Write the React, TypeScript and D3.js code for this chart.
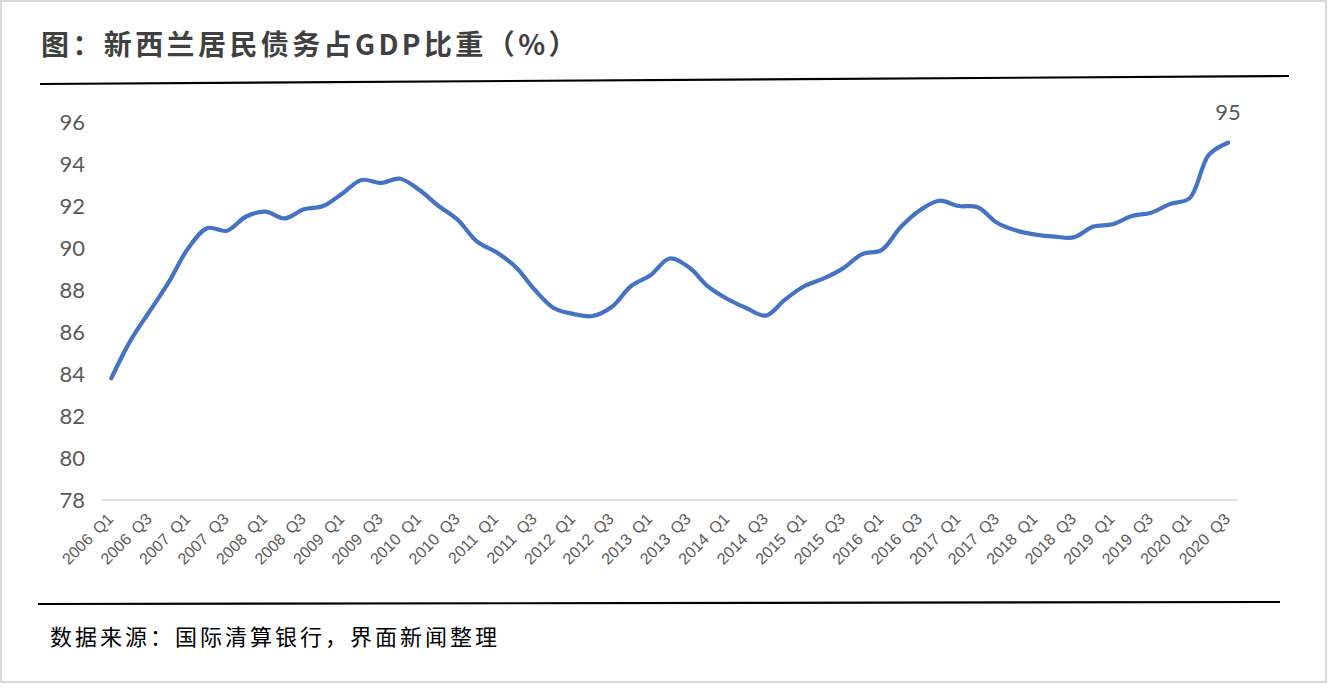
import React from "react";
import * as d3 from "d3";

const title = "图：新西兰居民债务占GDP比重（%）";
const source = "数据来源：国际清算银行，界面新闻整理";
const years = [2006, 2007, 2008, 2009, 2010, 2011, 2012, 2013, 2014, 2015, 2016, 2017, 2018, 2019, 2020];
const quarters = ["Q1", "Q2", "Q3", "Q4"];
const debtRatio = [
  83.8, 85.6, 87.0, 88.4, 90.0, 90.95, 90.82, 91.5, 91.73, 91.41,
  91.84, 92.0, 92.6, 93.24, 93.1, 93.3, 92.76, 92.0, 91.33, 90.3,
  89.8, 89.1, 88.0, 87.13, 86.86, 86.76, 87.2, 88.19, 88.7, 89.5,
  89.08, 88.16, 87.57, 87.13, 86.78, 87.55, 88.19, 88.55, 89.03, 89.71,
  89.9, 91.0, 91.8, 92.25, 92.0, 91.94, 91.2, 90.83, 90.64, 90.54,
  90.51, 91.02, 91.13, 91.52, 91.68, 92.1, 92.37, 94.43, 95.01,
];
const yTicks = [78, 80, 82, 84, 86, 88, 90, 92, 94, 96];
const lastLabel = "95";

const categories: string[] = [];
years.forEach((y) => quarters.forEach((q) => categories.push(`${y} ${q}`)));
const cats = categories.slice(0, debtRatio.length);

export default function App() {
  const W = 1328, H = 697;
  const x = d3.scaleBand<string>().domain(cats).range([101.7, 1237.7]).paddingInner(0).paddingOuter(0);
  const y = d3.scaleLinear().domain([78, 96]).range([500, 122]);
  const cx = (c: string) => (x(c) as number) + x.bandwidth() / 2;
  const line = d3
    .line<number>()
    .x((_, i) => cx(cats[i]))
    .y((d) => y(d))
    .curve(d3.curveCatmullRom.alpha(0.5));
  const lastIdx = debtRatio.length - 1;

  return (
    <svg width={W} height={H} style={{ position: "absolute", left: 0, top: 0, background: "#fff" }}>
      <rect x={1} y={1} width={1325} height={681} fill="#fff" stroke="#d9d9d9" strokeWidth={2} />
      <text x={41} y={55} fontFamily="'Noto Sans CJK SC'" fontWeight={700} fontSize={28} fill="#404040" letterSpacing={3.4}>
        {title}
      </text>
      <line x1={40} y1={84} x2={1289} y2={76} stroke="#000" strokeWidth={2.2} />
      <line x1={38} y1={604} x2={1280} y2={602} stroke="#000" strokeWidth={2.2} />
      <text x={50} y={645} fontFamily="'Noto Sans CJK SC'" fontSize={22} fill="#000" letterSpacing={3.0}>
        {source}
      </text>

      {/* y axis ticks */}
      {yTicks.map((t) => (
        <text key={t} x={85} y={y(t)} dy="0.36em" textAnchor="end" fontFamily="Lato" fontSize={22} fill="#595959">
          {t}
        </text>
      ))}
      <line x1={101.7} x2={1237.7} y1={y(78)} y2={y(78)} stroke="#d9d9d9" strokeWidth={1.5} />

      {/* x labels */}
      {cats.map((c, i) =>
        i % 2 === 0 ? (
          <text
            key={c}
            transform={`translate(${cx(c) - 1},${516}) rotate(-45)`}
            textAnchor="end"
            dy="0.35em"
            fontFamily="'Liberation Sans'"
            fontSize={16}
            fill="#595959"
            wordSpacing={3}
          >
            {c}
          </text>
        ) : null
      )}

      <path d={line(debtRatio) || ""} fill="none" stroke="#4472C4" strokeWidth={4.2} strokeLinecap="round" strokeLinejoin="round" />
      <text x={cx(cats[lastIdx])} y={y(debtRatio[lastIdx]) - 23} textAnchor="middle" fontFamily="Lato" fontSize={22} fill="#595959">
        {lastLabel}
      </text>
    </svg>
  );
}
